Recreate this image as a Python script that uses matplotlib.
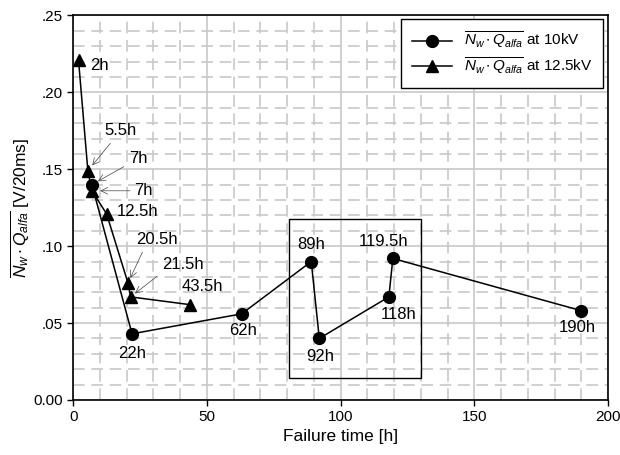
import numpy as np
import matplotlib.pyplot as plt
from matplotlib.patches import Rectangle
from matplotlib.ticker import MultipleLocator, FuncFormatter

plt.rcParams['font.family'] = ['Liberation Sans', 'DejaVu Sans']
plt.rcParams['mathtext.fontset'] = 'custom'
plt.rcParams['mathtext.rm'] = 'Liberation Sans'
plt.rcParams['mathtext.it'] = 'Liberation Sans:italic'
plt.rcParams['mathtext.bf'] = 'Liberation Sans:bold'

# data
t_10kv = [7, 22, 63, 89, 92, 118, 119.5, 190]
v_10kv = [0.140, 0.043, 0.056, 0.090, 0.040, 0.067, 0.092, 0.058]
lab_10kv = ['7h', '22h', '62h', '89h', '92h', '118h', '119.5h', '190h']

t_125kv = [2, 5.5, 7, 12.5, 20.5, 21.5, 43.5]
v_125kv = [0.221, 0.149, 0.136, 0.121, 0.076, 0.067, 0.062]
lab_125kv = ['2h', '5.5h', '7h', '12.5h', '20.5h', '21.5h', '43.5h']

# highlighted region
box_t = [80.5, 130]
box_v = [0.014, 0.1175]

fig = plt.figure(figsize=(6.2, 4.55), dpi=100)
ax = fig.add_axes([0.118, 0.121, 0.863, 0.845])

ax.plot(t_10kv, v_10kv, '-o', color='black', lw=1.1, ms=8.5, zorder=3,
        label=r'$\overline{N_w \bullet Q_{alfa}}$ at 10kV')
ax.plot(t_125kv, v_125kv, '-^', color='black', lw=1.1, ms=8.5, zorder=3,
        label=r'$\overline{N_w \bullet Q_{alfa}}$ at 12.5kV')

fs = 12
arr = dict(arrowstyle='->', lw=0.5, color='#444444')

# 10kV labels (offset in points from the point)
off_10 = {'22h': (0, -14), '62h': (1, -12), '89h': (0, 12),
          '92h': (1, -13), '118h': (7, -13), '119.5h': (-7, 12), '190h': (-3, -12)}
for t, v, s in zip(t_10kv, v_10kv, lab_10kv):
    if s not in off_10:
        continue
    ax.annotate(s, (t, v), xytext=off_10[s], textcoords='offset points',
                ha='center', va='center', fontsize=fs)

# upper 7h label pointing at the 10kV circle
ax.annotate('7h', (t_10kv[0], v_10kv[0]), xytext=(20.9, 0.157),
            ha='left', va='center', fontsize=fs,
            arrowprops=dict(arr, shrinkA=2, shrinkB=5))

# 12.5kV labels
ax.annotate('2h', (t_125kv[0], v_125kv[0]), xytext=(6.3, 0.2175),
            ha='left', va='center', fontsize=fs)
ax.annotate('5.5h', (t_125kv[1], v_125kv[1]), xytext=(11.8, 0.175),
            ha='left', va='center', fontsize=fs,
            arrowprops=dict(arr, shrinkA=2, shrinkB=5, relpos=(0.3, 0)))
ax.annotate('7h', (t_125kv[2], v_125kv[2]), xytext=(22.8, 0.136),
            ha='left', va='center', fontsize=fs,
            arrowprops=dict(arr, shrinkA=1, shrinkB=6))
ax.annotate('12.5h', (t_125kv[3], v_125kv[3]), xytext=(16.2, 0.1225),
            ha='left', va='center', fontsize=fs)
ax.annotate('20.5h', (t_125kv[4], v_125kv[4]), xytext=(23.7, 0.1045),
            ha='left', va='center', fontsize=fs,
            arrowprops=dict(arr, shrinkA=2, shrinkB=4, relpos=(0.2, 0)))
ax.annotate('21.5h', (t_125kv[5], v_125kv[5]), xytext=(33.2, 0.088),
            ha='left', va='center', fontsize=fs,
            arrowprops=dict(arr, shrinkA=2, shrinkB=4, relpos=(0.1, 0.2)))
ax.annotate('43.5h', (t_125kv[6], v_125kv[6]), xytext=(40.7, 0.0735),
            ha='left', va='center', fontsize=fs)

ax.add_patch(Rectangle((box_t[0], box_v[0]), box_t[1] - box_t[0], box_v[1] - box_v[0],
                       fill=False, ec='black', lw=1.0, zorder=2))

ax.set_xlim(0, 200)
ax.set_ylim(0, 0.25)
ax.xaxis.set_major_locator(MultipleLocator(50))
ax.xaxis.set_minor_locator(MultipleLocator(10))
ax.yaxis.set_major_locator(MultipleLocator(0.05))
ax.yaxis.set_minor_locator(MultipleLocator(0.01))

def yfmt(v, pos):
    if abs(v) < 1e-9:
        return '0.00'
    return ('%.2f' % v)[1:]

ax.yaxis.set_major_formatter(FuncFormatter(yfmt))
ax.tick_params(which='major', direction='out', length=4, width=1, labelsize=11)
ax.tick_params(which='minor', length=0)

ax.set_axisbelow(True)
ax.grid(which='major', color='#c8c8c8', lw=1.2, ls='-')
ax.grid(which='minor', color='#c8c8c8', lw=1.2, ls=(0, (7, 4)))
for sp in ax.spines.values():
    sp.set_linewidth(1.2)

ax.set_xlabel('Failure time [h]', fontsize=12.5, labelpad=3)
ax.set_ylabel(r'$\overline{N_w \bullet Q_{alfa}}$ [V/20ms]', fontsize=12.5,
              labelpad=1)

leg = ax.legend(loc='upper right', bbox_to_anchor=(0.9906, 0.9896), fontsize=11,
                fancybox=False, edgecolor='black', framealpha=1, borderaxespad=0,
                handlelength=2.6, borderpad=0.7, labelspacing=0.3)
leg.get_frame().set_linewidth(1.0)

plt.savefig('out.png', dpi=100)
